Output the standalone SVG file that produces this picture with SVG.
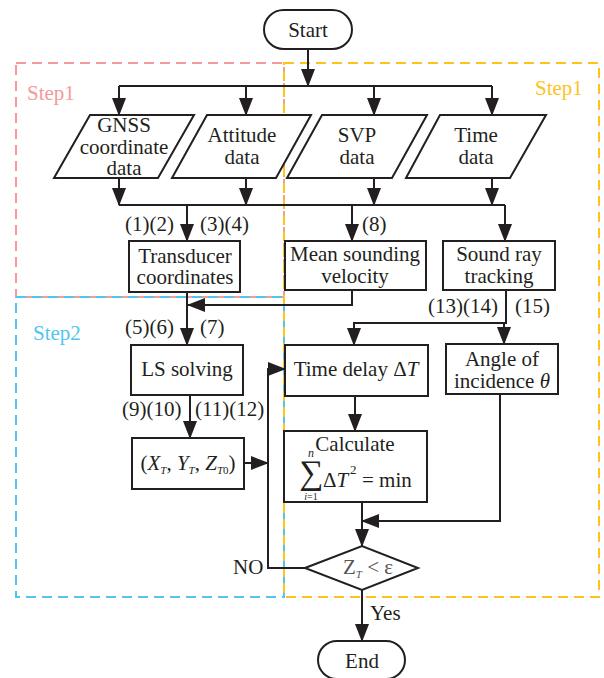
<svg xmlns="http://www.w3.org/2000/svg" width="604" height="678" viewBox="0 0 604 678" font-family="'Liberation Serif', Tinos, 'Times New Roman', 'DejaVu Serif', serif">
  <style>
    text { font-family: "Liberation Serif", Tinos, "Times New Roman", "DejaVu Serif", serif; font-size: 21px; fill: #231f20; }
    .c { text-anchor: middle; }
    .it { font-style: italic; }
    .shape { fill: #ffffff; stroke: #231f20; stroke-width: 2; }
    .wire { fill: none; stroke: #231f20; stroke-width: 2; }
    .zone { fill: none; stroke-width: 2; stroke-dasharray: 10 6; }
  </style>
  <defs>
    <marker id="arrow" viewBox="0 0 18 14" refX="17" refY="7" markerWidth="18" markerHeight="14" markerUnits="userSpaceOnUse" orient="auto">
      <path d="M0,0 L18,7 L0,14 Z" fill="#231f20"/>
    </marker>
  </defs>

  <rect width="604" height="678" fill="#ffffff"/>

  <!-- dashed stage regions -->
  <g id="zones">
    <rect class="zone" x="16" y="63" width="268" height="234" stroke="#f49a9a"/>
    <rect class="zone" x="16" y="297" width="268" height="300" stroke="#4fc6ee"/>
    <rect class="zone" x="284" y="63" width="315" height="534" stroke="#fcc31c"/>
    <text x="27" y="100" style="fill:#f49a9a">Step1</text>
    <text x="535" y="95" style="fill:#fcc31c">Step1</text>
    <text x="33" y="340" style="fill:#4fc6ee">Step2</text>
  </g>

  <!-- connectors -->
  <g id="connectors">
    <path class="wire" d="M308,49 V86" marker-end="url(#arrow)"/>
    <path class="wire" d="M119,86 H492"/>
    <path class="wire" d="M119,86 V115" marker-end="url(#arrow)"/>
    <path class="wire" d="M246,86 V115" marker-end="url(#arrow)"/>
    <path class="wire" d="M374,86 V115" marker-end="url(#arrow)"/>
    <path class="wire" d="M492,86 V115" marker-end="url(#arrow)"/>

    <path class="wire" d="M119,178 V205" marker-end="url(#arrow)"/>
    <path class="wire" d="M246,178 V205" marker-end="url(#arrow)"/>
    <path class="wire" d="M374,178 V205" marker-end="url(#arrow)"/>
    <path class="wire" d="M492,178 V205" marker-end="url(#arrow)"/>
    <path class="wire" d="M119,205 H505"/>
    <path class="wire" d="M187,205 V241" marker-end="url(#arrow)"/>
    <path class="wire" d="M352,205 V241" marker-end="url(#arrow)"/>
    <path class="wire" d="M505,205 V241" marker-end="url(#arrow)"/>

    <path class="wire" d="M352,290 V305 H188" marker-end="url(#arrow)"/>
    <path class="wire" d="M187,292 V345" marker-end="url(#arrow)"/>
    <path class="wire" d="M190,395 V438" marker-end="url(#arrow)"/>
    <path class="wire" d="M244,463 H268" marker-end="url(#arrow)"/>
    <path class="wire" d="M305,568 H268 V369 H285" marker-end="url(#arrow)"/>

    <path class="wire" d="M506,290 V323 H354 V345" marker-end="url(#arrow)"/>
    <path class="wire" d="M504,323 V344" marker-end="url(#arrow)"/>
    <path class="wire" d="M355,396 V431" marker-end="url(#arrow)"/>
    <path class="wire" d="M362,502 V546" marker-end="url(#arrow)"/>
    <path class="wire" d="M500,394 V521 H362" marker-end="url(#arrow)"/>
    <path class="wire" d="M362,590 V641" marker-end="url(#arrow)"/>

    <text x="125" y="231">(1)(2)</text>
    <text x="200" y="231">(3)(4)</text>
    <text x="362" y="231">(8)</text>
    <text x="125" y="334">(5)(6)</text>
    <text x="200" y="334">(7)</text>
    <text x="122" y="416">(9)(10)</text>
    <text x="195" y="416">(11)(12)</text>
    <text x="428" y="313">(13)(14)</text>
    <text x="515" y="313">(15)</text>
    <text x="233" y="574">NO</text>
    <text x="370" y="620">Yes</text>
  </g>

  <g id="start">
    <rect class="shape" x="264" y="10" width="88" height="39" rx="19.5"/>
    <text class="c" x="308" y="37">Start</text>
  </g>

  <g id="gnss">
    <polygon class="shape" points="90,115 194,115 158,178 54,178"/>
    <text class="c" x="124" y="132">GNSS</text>
    <text class="c" x="124" y="154">coordinate</text>
    <text class="c" x="124" y="175">data</text>
  </g>

  <g id="attitude">
    <polygon class="shape" points="207,115 311,115 276,178 172,178"/>
    <text class="c" x="242" y="142">Attitude</text>
    <text class="c" x="242" y="164">data</text>
  </g>

  <g id="svp">
    <polygon class="shape" points="322,115 427,115 392,178 287,178"/>
    <text class="c" x="357" y="142">SVP</text>
    <text class="c" x="357" y="164">data</text>
  </g>

  <g id="time">
    <polygon class="shape" points="440,115 546,115 510,178 406,178"/>
    <text class="c" x="476" y="142">Time</text>
    <text class="c" x="476" y="164">data</text>
  </g>

  <g id="transducer">
    <rect class="shape" x="129" y="241" width="111" height="51"/>
    <text class="c" x="185" y="263">Transducer</text>
    <text class="c" x="185" y="284">coordinates</text>
  </g>

  <g id="mean-velocity">
    <rect class="shape" x="285" y="241" width="141" height="49"/>
    <text class="c" x="355" y="261">Mean sounding</text>
    <text class="c" x="355" y="283">velocity</text>
  </g>

  <g id="ray-tracking">
    <rect class="shape" x="443" y="241" width="112" height="49"/>
    <text class="c" x="499" y="261">Sound ray</text>
    <text class="c" x="499" y="283">tracking</text>
  </g>

  <g id="ls-solving">
    <rect class="shape" x="131" y="345" width="112" height="50"/>
    <text class="c" x="187" y="376">LS solving</text>
  </g>

  <g id="position">
    <rect class="shape" x="132" y="438" width="112" height="51"/>
    <text class="c" x="188" y="470">(<tspan class="it">X</tspan><tspan class="it" font-size="11" dy="4">T</tspan><tspan dy="-4">, </tspan><tspan class="it">Y</tspan><tspan class="it" font-size="11" dy="4">T</tspan><tspan dy="-4">, </tspan><tspan class="it">Z</tspan><tspan class="it" font-size="11" dy="4">T</tspan><tspan font-size="11" dy="0">0</tspan><tspan dy="-4">)</tspan></text>
  </g>

  <g id="time-delay">
    <rect class="shape" x="285" y="345" width="143" height="51"/>
    <text class="c" x="356" y="376">Time delay Δ<tspan class="it">T</tspan></text>
  </g>

  <g id="incidence">
    <rect class="shape" x="446" y="344" width="112" height="50"/>
    <text class="c" x="502" y="366">Angle of</text>
    <text class="c" x="502" y="388">incidence  <tspan class="it">θ</tspan></text>
  </g>

  <g id="calculate">
    <rect class="shape" x="284" y="431" width="143" height="71"/>
    <text class="c" x="355" y="451">Calculate</text>
    <text class="c" x="311" y="484" style="font-size:34px">∑</text>
    <text class="c it" x="311" y="457" style="font-size:12px">n</text>
    <text class="c" x="311" y="500" style="font-size:10px"><tspan class="it">i</tspan>=1</text>
    <text x="323" y="487">Δ<tspan class="it">T</tspan></text>
    <text x="350" y="474" style="font-size:13px">2</text>
    <text x="362" y="487">= min</text>
  </g>

  <g id="check">
    <polygon class="shape" points="305,568 362,546 418,568 362,590"/>
    <text x="343" y="574" style="fill:#555555">Z<tspan class="it" font-size="11" dy="4">T</tspan><tspan dy="-4"> &lt; ε</tspan></text>
  </g>

  <g id="end">
    <rect class="shape" x="318" y="641" width="87" height="38" rx="19"/>
    <text class="c" x="362" y="668">End</text>
  </g>
</svg>
